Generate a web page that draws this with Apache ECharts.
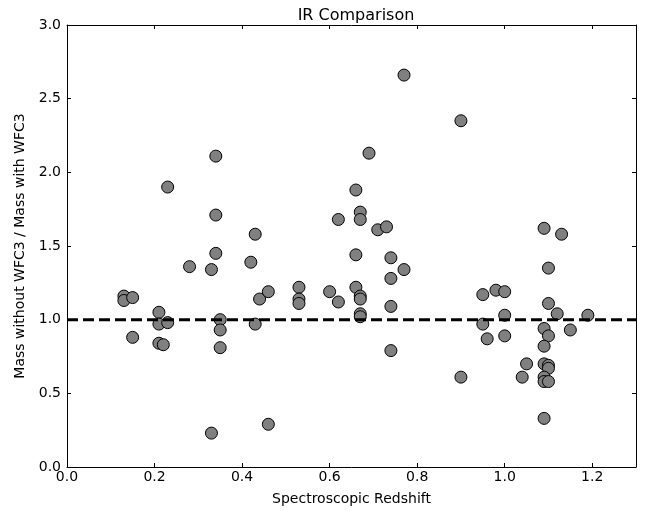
<!DOCTYPE html>
<html>
<head>
<meta charset="utf-8">
<script src="https://cdn.jsdelivr.net/npm/echarts@6/dist/echarts.min.js"></script>
<style>html,body{margin:0;padding:0;background:#fff}#c{width:657px;height:511px}</style>
</head>
<body>
<div id="c"></div>
<script>
const redshift = [0.13,0.13,0.15,0.15,0.21,0.21,0.23,0.21,0.22,0.23,0.28,0.33,0.34,0.33,0.34,0.34,0.35,0.35,0.35,0.42,0.43,0.43,0.44,0.46,0.46,0.53,0.53,0.53,0.60,0.62,0.62,0.66,0.67,0.67,0.66,0.66,0.67,0.67,0.67,0.67,0.69,0.71,0.73,0.74,0.74,0.74,0.74,0.77,0.77,0.90,0.90,0.95,0.98,1.00,1.00,0.95,0.96,1.00,1.04,1.05,1.09,1.13,1.10,1.10,1.12,1.09,1.15,1.10,1.09,1.09,1.10,1.10,1.09,1.09,1.10,1.09,1.19];
const massRatio = [1.16,1.13,1.15,0.88,1.05,0.97,0.98,0.84,0.83,1.90,1.36,1.34,1.45,0.23,2.11,1.71,1.00,0.93,0.81,1.39,0.97,1.58,1.14,1.19,0.29,1.22,1.14,1.11,1.19,1.12,1.68,1.88,1.73,1.68,1.44,1.22,1.16,1.14,1.04,1.02,2.13,1.61,1.63,1.42,1.28,1.09,0.79,1.34,2.66,2.35,0.61,1.17,1.20,1.19,1.03,0.97,0.87,0.89,0.61,0.70,1.62,1.58,1.35,1.11,1.04,0.94,0.93,0.89,0.82,0.70,0.69,0.67,0.61,0.58,0.58,0.33,1.03];
const refLineX = [0, 1.3];
const refLineY = [1.0, 1.0];
const xTicks = {min: 0, max: 1.3, interval: 0.2};
const yTicks = {min: 0, max: 3.0, interval: 0.5};

const points = redshift.map((x, i) => [x, massRatio[i]]);
const refLine = refLineX.map((x, i) => [x, refLineY[i]]);
const font = 'DejaVu Sans';
const axisCommon = {
  axisLine: {show: true, onZero: false, lineStyle: {color: '#000', width: 1}},
  axisTick: {show: true, inside: true, length: 4, lineStyle: {color: '#000'}},
  splitLine: {show: false}
};
const chart = echarts.init(document.getElementById('c'), null, {renderer: 'canvas'});
chart.setOption({
  animation: false,
  backgroundColor: '#fff',
  title: {text: 'IR Comparison', left: 351, top: 3, textAlign: 'center',
    textStyle: {fontFamily: font, fontSize: 16, fontWeight: 'normal', color: '#000'}},
  grid: {left: 67, right: 21, top: 25, bottom: 40, containLabel: false},
  xAxis: [
    Object.assign({type: 'value', position: 'bottom', min: xTicks.min, max: xTicks.max, interval: xTicks.interval,
      name: 'Spectroscopic Redshift', nameLocation: 'middle', nameGap: 25,
      nameTextStyle: {fontFamily: font, fontSize: 14, color: '#000'},
      axisLabel: {fontFamily: font, fontSize: 14, color: '#000', margin: 3, showMaxLabel: false,
        formatter: v => v.toFixed(1)}}, axisCommon),
    Object.assign({type: 'value', position: 'top', min: xTicks.min, max: xTicks.max, interval: xTicks.interval,
      axisLabel: {show: false}}, axisCommon)
  ],
  yAxis: [
    Object.assign({type: 'value', position: 'left', min: yTicks.min, max: yTicks.max, interval: yTicks.interval,
      name: 'Mass without WFC3 / Mass with WFC3', nameLocation: 'middle', nameGap: 36,
      nameTextStyle: {fontFamily: font, fontSize: 14, color: '#000'},
      axisLabel: {fontFamily: font, fontSize: 14, color: '#000', margin: 6, formatter: v => v.toFixed(1)}}, axisCommon),
    Object.assign({type: 'value', position: 'right', min: yTicks.min, max: yTicks.max, interval: yTicks.interval,
      axisLabel: {show: false}}, axisCommon)
  ],
  series: [
    {type: 'scatter', data: points, symbolSize: 12, z: 2,
      itemStyle: {color: '#808080', borderColor: '#000', borderWidth: 1, opacity: 1}},
    {type: 'line', data: refLine, symbol: 'none', z: 3,
      lineStyle: {color: '#000', width: 3, type: [11, 5]}}
  ]
});
</script>
</body>
</html>
